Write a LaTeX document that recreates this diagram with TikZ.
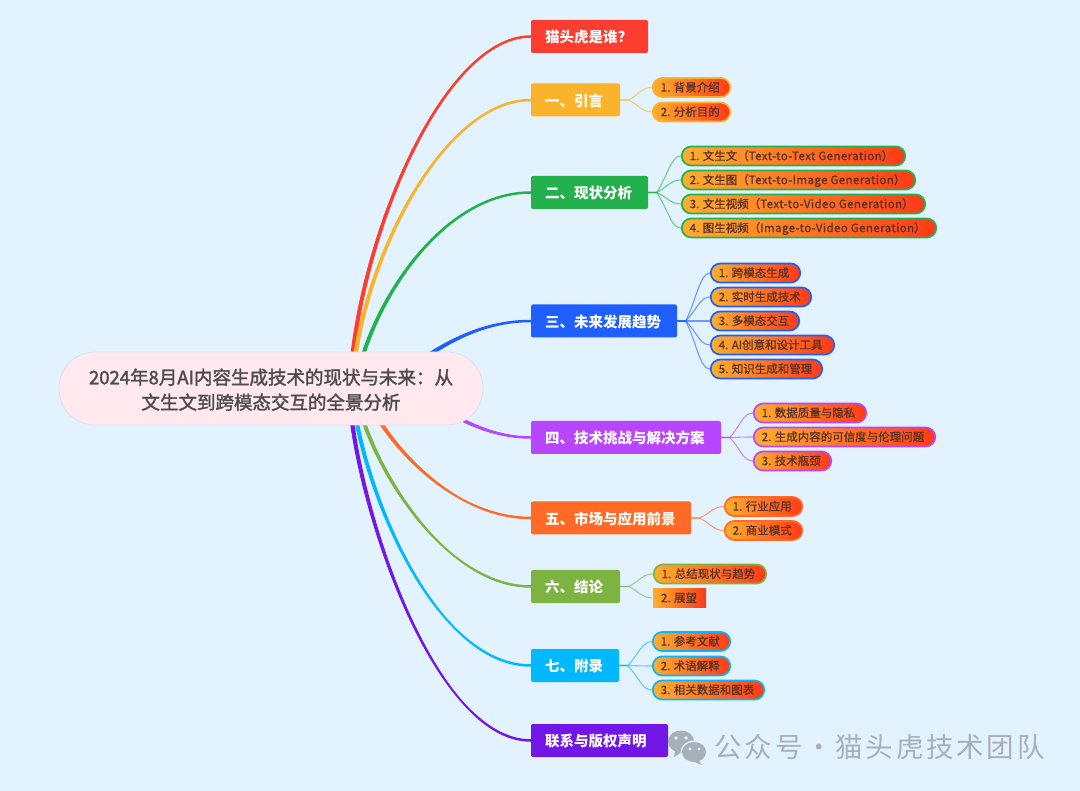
\documentclass[tikz,border=0pt]{standalone}
\usepackage{fontspec}
\setmainfont{Noto Sans CJK SC}
\newfontfamily\wmfont[LetterSpace=10]{Noto Sans CJK SC}
\newfontfamily\leaffont[FakeBold=0.9]{Noto Sans CJK SC}
\newfontfamily\lspfont[FakeBold=0.9,LetterSpace=3.6]{Noto Sans CJK SC}
\newfontfamily\rootfont[FakeBold=1.8]{Noto Sans CJK SC}
\usetikzlibrary{calc}
\definecolor{bgc}{HTML}{E3F2FF}
\definecolor{cred}{HTML}{FC3D2F}
\definecolor{cyel}{HTML}{FAB32A}
\definecolor{cgrn}{HTML}{22B14C}
\definecolor{cblu}{HTML}{1F5FFF}
\definecolor{cpur}{HTML}{B845FF}
\definecolor{corg}{HTML}{FF6B26}
\definecolor{coli}{HTML}{7CB341}
\definecolor{ccya}{HTML}{00B8FF}
\definecolor{cvio}{HTML}{7216E8}
\definecolor{wmc}{HTML}{A6B0B9}
\definecolor{leaftext}{HTML}{5A3428}
\definecolor{gradl}{HTML}{FFAE2E}
\definecolor{gradr}{HTML}{FF3A18}
\definecolor{rootfill}{HTML}{FFE8EE}
\definecolor{rootline}{HTML}{DDE3EC}
\tikzset{
 x=1pt,y=-1pt,
 mainnode/.style={rounded corners=2pt,inner sep=0pt,minimum height=33pt,text=white,font=\fontsize{14.5}{16}\bfseries\selectfont},
 leafnode/.style={rounded corners=9.5pt,inner sep=0pt,minimum height=19pt,line width=1.7pt,left color=gradl,right color=gradr,text=leaftext,font=\fontsize{11.5}{13}\leaffont},
 twig/.style={line width=1.1pt,draw opacity=.6},
 trunk/.style={line width=1.9pt,line join=round}
}
% name, x0, x1, yc, text, colour
\newcommand{\mainn}[6]{\node[mainnode,fill=#6,minimum width=#3pt-#2pt] (#1) at ({(#2+#3)/2},#4) {\makebox[\dimexpr#3pt-#2pt\relax][l]{\hspace*{14pt}\raisebox{-6.4pt}[0pt][0pt]{#5}}};}
\newcommand{\leafn}[6]{\node[leafnode,draw=#6,minimum width=#3pt-#2pt-1.5pt] (#1) at ({(#2+#3)/2},#4) {\makebox[\dimexpr#3pt-#2pt-1.5pt\relax][l]{\hspace*{8pt}\raisebox{-4.1pt}[0pt][0pt]{#5}}};}
\newcommand{\twigto}[3]{\path (#1.east) ++(8.5,0) coordinate (fk);
 \draw[twig,#3] (#1.east) -- (fk) .. controls ($(fk)!.45!(#2.west)$) and +(-10,0) .. (#2.west);}
% colour, start x, start y, start half width dx, dy, c1x, c1y, c2x, end node
\newcommand{\trunkto}[9]{\filldraw[trunk,#1] (#2-#4,#3-#5) .. controls (#6-#4,#7-#5) and (#8,{\trunkey-.3}) .. ($(#9.west)+(0,-.3)$) -- ($(#9.west)+(0,.3)$) .. controls (#8,{\trunkey+.3}) and (#6+#4,#7+#5) .. (#2+#4,#3+#5) -- cycle;}
\begin{document}
\begin{tikzpicture}
\useasboundingbox (0,0) rectangle (1080,791);
\fill[bgc] (0,0) rectangle (1080,791);
% main nodes
\mainn{m0}{531}{648}{36.5}{猫头虎是谁?}{cred}
\mainn{m1}{531}{620}{100}{一、引言}{cyel}
\mainn{m2}{531}{648}{192.5}{二、现状分析}{cgrn}
\mainn{m3}{531}{677}{321}{三、未来发展趋势}{cblu}
\mainn{m4}{531}{721}{437.5}{四、技术挑战与解决方案}{cpur}
\mainn{m5}{531}{691}{518}{五、市场与应用前景}{corg}
\mainn{m6}{531}{620}{586.5}{六、结论}{coli}
\mainn{m7}{531}{619}{665.5}{七、附录}{ccya}
\mainn{m8}{531}{668}{740.5}{联系与版权声明}{cvio}
% trunks (tapered)
\def\trunkey{36.5}\trunkto{cred}{350}{388}{1.2}{0}{355}{250}{440}{m0}
\def\trunkey{100}\trunkto{cyel}{352}{388}{1.2}{0}{358}{270}{440}{m1}
\def\trunkey{192.5}\trunkto{cgrn}{355}{388}{1.2}{0}{368}{308}{440}{m2}
\def\trunkey{321}\trunkto{cblu}{400}{375}{.7}{1}{440}{345}{480}{m3}
\def\trunkey{437.5}\trunkto{cpur}{430}{400}{-.6}{1}{455}{418}{490}{m4}
\def\trunkey{518}\trunkto{corg}{365}{395}{1}{-.6}{385}{440}{450}{m5}
\def\trunkey{586.5}\trunkto{coli}{355}{388}{1.2}{0}{365}{455}{440}{m6}
\def\trunkey{665.5}\trunkto{ccya}{352}{388}{1.2}{0}{358}{475}{430}{m7}
\def\trunkey{740.5}\trunkto{cvio}{349}{388}{1.2}{0}{352}{490}{430}{m8}
% root
\node[draw=rootline,fill=rootfill,line width=.8pt,rounded corners=36pt,minimum width=424pt,minimum height=73pt,inner sep=0pt,text=black!70,font=\fontsize{18.5}{25}\rootfont] (root) at (271,388.5) {\raisebox{-1.2pt}[\height][\depth]{\parbox{400pt}{\centering 2024年8月AI内容生成技术的现状与未来：从\\文生文到跨模态交互的全景分析}}};
% leaves
\leafn{a1}{652}{731}{87.5}{1. 背景介绍}{cyel}
\leafn{a2}{652}{731}{112}{2. 分析目的}{cyel}
\leafn{b1}{681}{906}{156}{1. 文生文（{\lspfont Text-to-Text Generation}）}{cgrn}
\leafn{b2}{681}{916}{180}{2. 文生图（{\lspfont Text-to-Image Generation}）}{cgrn}
\leafn{b3}{681}{926}{204}{3. 文生视频（{\lspfont Text-to-Video Generation}）}{cgrn}
\leafn{b4}{681}{937}{228}{4. 图生视频（{\lspfont Image-to-Video Generation}）}{cgrn}
\leafn{c1}{710}{801}{273}{1. 跨模态生成}{cblu}
\leafn{c2}{710}{812}{297}{2. 实时生成技术}{cblu}
\leafn{c3}{710}{800}{321}{3. 多模态交互}{cblu}
\leafn{c4}{710}{835}{345}{4. AI创意和设计工具}{cblu}
\leafn{c5}{710}{823}{369}{5. 知识生成和管理}{cblu}
\leafn{d1}{753}{867}{413}{1. 数据质量与隐私}{cpur}
\leafn{d2}{753}{936}{437}{2. 生成内容的可信度与伦理问题}{cpur}
\leafn{d3}{753}{832}{461}{3. 技术瓶颈}{cpur}
\leafn{e1}{724}{803}{506.5}{1. 行业应用}{corg}
\leafn{e2}{724}{803}{530.5}{2. 商业模式}{corg}
\leafn{f1}{653}{767}{574}{1. 总结现状与趋势}{coli}
\node[leafnode,rounded corners=0pt,draw=none,minimum width=53pt,minimum height=19pt] (f2) at (679.5,598) {\makebox[53pt][l]{\hspace*{8pt}\raisebox{-4.1pt}[0pt][0pt]{2. 展望}}};
\leafn{g1}{652}{731}{641.5}{1. 参考文献}{ccya}
\leafn{g2}{652}{731}{666}{2. 术语解释}{ccya}
\leafn{g3}{652}{765}{690}{3. 相关数据和图表}{ccya}
% twigs
\twigto{m1}{a1}{cyel}\twigto{m1}{a2}{cyel}
\twigto{m2}{b1}{cgrn}\twigto{m2}{b2}{cgrn}\twigto{m2}{b3}{cgrn}\twigto{m2}{b4}{cgrn}
\twigto{m3}{c1}{cblu}\twigto{m3}{c2}{cblu}\twigto{m3}{c3}{cblu}\twigto{m3}{c4}{cblu}\twigto{m3}{c5}{cblu}
\twigto{m4}{d1}{cpur}\twigto{m4}{d2}{cpur}\twigto{m4}{d3}{cpur}
\twigto{m5}{e1}{corg}\twigto{m5}{e2}{corg}
\twigto{m6}{f1}{coli}\twigto{m6}{f2}{coli}
\twigto{m7}{g1}{ccya}\twigto{m7}{g2}{ccya}\twigto{m7}{g3}{ccya}
% watermark icon
\fill[wmc] (681,741.5) ellipse [x radius=13pt,y radius=11pt];
\fill[wmc] (675,750) -- (674,757) -- (682,752) -- cycle;
\fill[bgc] (694,752) ellipse [x radius=13.5pt,y radius=11.5pt];
\fill[wmc] (694,752) ellipse [x radius=12pt,y radius=10pt];
\fill[wmc] (698,760) -- (702,765) -- (692,761) -- cycle;
\foreach \ex/\ey in {676/738,686/738}{\fill[bgc] (\ex,\ey) circle [radius=1.8pt];}
\foreach \ex/\ey in {690/749,699/749}{\fill[bgc] (\ex,\ey) circle [radius=1.6pt];}
\node[anchor=west,inner sep=0pt,text=wmc,font=\fontsize{27.5}{30}\selectfont] (wm) at (714.5,747) {\wmfont 公众号\makebox[33pt][c]{·}猫头虎技术团队};
\end{tikzpicture}
\end{document}
